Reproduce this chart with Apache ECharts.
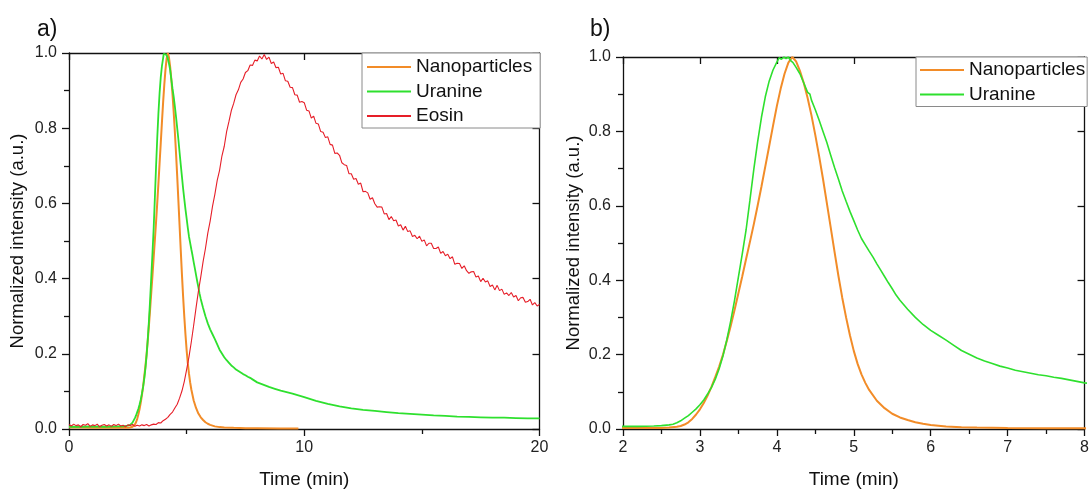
<!DOCTYPE html>
<html>
<head>
<meta charset="utf-8">
<script src="https://cdn.jsdelivr.net/npm/echarts@6/dist/echarts.min.js"></script>
<style>
  html, body { margin: 0; padding: 0; background: #fff; }
  #chart { width: 1092px; height: 494px; }
</style>
</head>
<body>
<div id="chart"></div>
<script>
// Normalized breakthrough curves: [time (min), normalized intensity]
const nanoparticles = [
  [0, 0.004], [0.5, 0.004], [1, 0.003], [1.5, 0.004], [2, 0.003], [2.3, 0.003], [2.5, 0.003],
  [2.6, 0.004], [2.7, 0.006], [2.75, 0.008], [2.8, 0.012], [2.85, 0.018], [2.9, 0.027],
  [2.95, 0.039], [3.0, 0.053], [3.05, 0.07], [3.1, 0.09], [3.15, 0.113], [3.2, 0.14],
  [3.25, 0.168], [3.3, 0.2], [3.35, 0.237], [3.4, 0.277], [3.45, 0.32], [3.5, 0.365],
  [3.55, 0.41], [3.6, 0.457], [3.65, 0.503], [3.7, 0.55], [3.75, 0.6], [3.8, 0.652],
  [3.85, 0.706], [3.9, 0.76], [3.95, 0.815], [4.0, 0.868], [4.05, 0.915], [4.1, 0.955],
  [4.15, 0.985], [4.2, 1.0], [4.25, 0.988], [4.3, 0.963], [4.35, 0.93], [4.4, 0.89],
  [4.45, 0.843], [4.5, 0.79], [4.55, 0.733], [4.6, 0.672], [4.65, 0.607], [4.7, 0.542],
  [4.75, 0.476], [4.8, 0.412], [4.85, 0.353], [4.9, 0.3], [4.95, 0.252], [5.0, 0.21],
  [5.05, 0.175], [5.1, 0.147], [5.15, 0.124], [5.2, 0.105], [5.3, 0.076], [5.4, 0.056],
  [5.5, 0.041], [5.6, 0.031], [5.7, 0.024], [5.8, 0.018], [5.9, 0.014], [6.0, 0.011],
  [6.2, 0.007], [6.4, 0.005], [6.6, 0.004], [7.0, 0.003], [7.5, 0.002], [8, 0.002],
  [9, 0.001], [9.75, 0.001]
];

const uranine = [
  [0, 0.006], [0.5, 0.006], [1, 0.007], [1.5, 0.006], [2, 0.007], [2.2, 0.007], [2.4, 0.008],
  [2.5, 0.009], [2.6, 0.011], [2.65, 0.013], [2.7, 0.017], [2.75, 0.022], [2.8, 0.029],
  [2.85, 0.036], [2.9, 0.045], [2.95, 0.054], [3.0, 0.065], [3.05, 0.078], [3.1, 0.094],
  [3.15, 0.112], [3.2, 0.134], [3.25, 0.162], [3.3, 0.197], [3.35, 0.24], [3.4, 0.29],
  [3.45, 0.346], [3.5, 0.408], [3.55, 0.47], [3.6, 0.535], [3.65, 0.615], [3.7, 0.697],
  [3.75, 0.772], [3.8, 0.838], [3.85, 0.893], [3.9, 0.935], [3.95, 0.965], [4.0, 0.986],
  [4.03, 0.998], [4.06, 0.994], [4.09, 1.0], [4.12, 0.996], [4.15, 1.0], [4.18, 0.99],
  [4.21, 0.985], [4.25, 0.972], [4.3, 0.955], [4.35, 0.93], [4.4, 0.905], [4.43, 0.9],
  [4.45, 0.884], [4.5, 0.858], [4.55, 0.83], [4.6, 0.8], [4.65, 0.77], [4.7, 0.736],
  [4.75, 0.703], [4.8, 0.672], [4.85, 0.64], [4.9, 0.612], [4.95, 0.585], [5.0, 0.56],
  [5.05, 0.535], [5.1, 0.512], [5.15, 0.495], [5.2, 0.478], [5.25, 0.462], [5.3, 0.444],
  [5.35, 0.427], [5.4, 0.41], [5.45, 0.393], [5.5, 0.377], [5.55, 0.36], [5.6, 0.346],
  [5.7, 0.322], [5.8, 0.3], [5.9, 0.281], [6.0, 0.265], [6.1, 0.252], [6.2, 0.239],
  [6.3, 0.225], [6.4, 0.211], [6.5, 0.201], [6.6, 0.191], [6.7, 0.183], [6.8, 0.176],
  [6.9, 0.169], [7.0, 0.164], [7.1, 0.158], [7.2, 0.154], [7.3, 0.15], [7.4, 0.146],
  [7.5, 0.143], [7.6, 0.139], [7.7, 0.136], [7.8, 0.132], [7.9, 0.128], [8.0, 0.124],
  [8.25, 0.118], [8.5, 0.112], [8.75, 0.107], [9, 0.102], [9.5, 0.094], [10, 0.085],
  [10.5, 0.075], [11, 0.067], [11.5, 0.06], [12, 0.055], [12.5, 0.051], [13, 0.048],
  [13.5, 0.045], [14, 0.042], [14.5, 0.04], [15, 0.038], [15.5, 0.036], [16, 0.035],
  [16.5, 0.033], [17, 0.032], [17.5, 0.031], [18, 0.03], [18.5, 0.03], [19, 0.029],
  [19.5, 0.028], [20, 0.028]
];

// Eosin is logged every 0.1 min from t = 0
const eosinStep = 0.1;
const eosinValues = [
  0.012, 0.008, 0.013, 0.009, 0.011, 0.006, 0.012, 0.010, 0.014, 0.007,
  0.011, 0.009, 0.013, 0.006, 0.010, 0.012, 0.008, 0.011, 0.007, 0.012,
  0.009, 0.013, 0.008, 0.010, 0.006, 0.011, 0.009, 0.012, 0.007, 0.010,
  0.008, 0.011, 0.009, 0.012, 0.008, 0.011, 0.013, 0.012, 0.017, 0.016,
  0.022, 0.026, 0.031, 0.039, 0.045, 0.056, 0.066, 0.082, 0.101, 0.126,
  0.158, 0.192, 0.232, 0.276, 0.322, 0.366, 0.404, 0.445, 0.480, 0.521,
  0.553, 0.592, 0.624, 0.661, 0.688, 0.726, 0.752, 0.791, 0.818, 0.847,
  0.866, 0.889, 0.902, 0.922, 0.931, 0.948, 0.953, 0.968, 0.967, 0.981,
  0.979, 0.992, 0.984, 0.996, 0.983, 0.989, 0.972, 0.976, 0.961, 0.962,
  0.944, 0.946, 0.926, 0.925, 0.909, 0.908, 0.889, 0.888, 0.869, 0.871,
  0.868, 0.848, 0.846, 0.827, 0.832, 0.813, 0.811, 0.791, 0.789, 0.775,
  0.777, 0.757, 0.755, 0.733, 0.734, 0.728, 0.708, 0.703, 0.701, 0.679,
  0.679, 0.664, 0.666, 0.651, 0.654, 0.631, 0.632, 0.628, 0.611, 0.615,
  0.599, 0.590, 0.591, 0.590, 0.572, 0.573, 0.557, 0.565, 0.554, 0.556,
  0.540, 0.543, 0.529, 0.539, 0.525, 0.527, 0.512, 0.515, 0.506, 0.513,
  0.499, 0.503, 0.487, 0.494, 0.494, 0.480, 0.480, 0.484, 0.467, 0.472,
  0.461, 0.465, 0.453, 0.458, 0.438, 0.441, 0.440, 0.427, 0.434, 0.421,
  0.414, 0.418, 0.419, 0.404, 0.407, 0.392, 0.401, 0.391, 0.394, 0.379,
  0.383, 0.370, 0.382, 0.368, 0.372, 0.358, 0.362, 0.355, 0.363, 0.351,
  0.355, 0.341, 0.349, 0.350, 0.337, 0.339, 0.345, 0.330, 0.336, 0.327,
  0.331
];
const eosin = eosinValues.map((v, i) => [Number((i * eosinStep).toFixed(1)), v]);

const legendA = ['Nanoparticles', 'Uranine', 'Eosin'];
const legendB = ['Nanoparticles', 'Uranine'];
const panelLabels = ['a)', 'b)'];
const xLabel = 'Time (min)';
const yLabel = 'Normalized intensity (a.u.)';

const COLORS = { Nanoparticles: '#f28c28', Uranine: '#2ee02e', Eosin: '#e61e28' };
const FONT = '"Liberation Sans", Arial, sans-serif';
const INK = '#111';

function bottomAxis(grid, min, max, interval) {
  return {
    gridIndex: grid, type: 'value', position: 'bottom', min, max, interval,
    name: xLabel, nameLocation: 'middle', nameGap: 41,
    nameTextStyle: { fontSize: 19, color: INK, fontFamily: FONT },
    axisLine: { onZero: false, lineStyle: { color: INK, width: 1.3 } },
    axisTick: { inside: false, length: 7, lineStyle: { color: INK, width: 1.3 } },
    minorTick: { show: true, splitNumber: 2, length: 5, lineStyle: { color: INK, width: 1.3 } },
    axisLabel: { fontSize: 16, color: '#222', margin: 11, fontFamily: FONT },
    splitLine: { show: false }, minorSplitLine: { show: false }
  };
}
function topAxis(grid, min, max, interval) {
  return {
    gridIndex: grid, type: 'value', position: 'top', min, max, interval,
    axisLine: { onZero: false, lineStyle: { color: INK, width: 1.3 } },
    axisTick: { inside: true, length: 7, lineStyle: { color: INK, width: 1.3 } },
    axisLabel: { show: false }, splitLine: { show: false }
  };
}
function leftAxis(grid, gap) {
  return {
    gridIndex: grid, type: 'value', position: 'left', min: 0, max: 1, interval: 0.2,
    name: yLabel, nameLocation: 'middle', nameGap: gap, nameRotate: 90,
    nameTextStyle: { fontSize: 18.5, color: INK, fontFamily: FONT },
    axisLine: { onZero: false, lineStyle: { color: INK, width: 1.3 } },
    axisTick: { inside: false, length: 7, lineStyle: { color: INK, width: 1.3 } },
    minorTick: { show: true, splitNumber: 2, length: 5, lineStyle: { color: INK, width: 1.3 } },
    axisLabel: { fontSize: 16, color: '#222', margin: 12, fontFamily: FONT,
                 formatter: v => v.toFixed(1) },
    splitLine: { show: false }, minorSplitLine: { show: false }
  };
}
function rightAxis(grid) {
  return {
    gridIndex: grid, type: 'value', position: 'right', min: 0, max: 1, interval: 0.2,
    axisLine: { onZero: false, lineStyle: { color: INK, width: 1.3 } },
    axisTick: { inside: true, length: 7, lineStyle: { color: INK, width: 1.3 } },
    axisLabel: { show: false }, splitLine: { show: false }
  };
}
function line(name, data, axis, width) {
  return {
    name, type: 'line', data, xAxisIndex: axis, yAxisIndex: axis,
    symbol: 'none', showSymbol: false, smooth: false, clip: true,
    lineStyle: { color: COLORS[name], width },
    itemStyle: { color: COLORS[name] }
  };
}
function legend(items, left, top, padding) {
  return {
    data: items, orient: 'vertical', left, top, padding,
    itemWidth: 44, itemHeight: 14, itemGap: 4.5,
    itemStyle: { opacity: 0 },
    backgroundColor: '#fff', borderColor: '#8a8a8a', borderWidth: 1, borderRadius: 0,
    textStyle: { fontSize: 19, lineHeight: 20, color: INK, fontFamily: FONT },
    selectedMode: false
  };
}

const chart = echarts.init(document.getElementById('chart'), null, { renderer: 'canvas' });
chart.setOption({
  animation: false,
  backgroundColor: '#fff',
  title: [
    { text: panelLabels[0], left: 37, top: 18, padding: 0,
      textStyle: { fontSize: 23, fontWeight: 'normal', color: INK, fontFamily: FONT } },
    { text: panelLabels[1], left: 590, top: 18, padding: 0,
      textStyle: { fontSize: 23, fontWeight: 'normal', color: INK, fontFamily: FONT } }
  ],
  grid: [
    { left: 69, right: 552.5, top: 53, bottom: 60 },
    { left: 623, right: 1, top: 57, bottom: 60.5 }
  ],
  xAxis: [bottomAxis(0, 0, 20, 10), topAxis(0, 0, 20, 10), bottomAxis(1, 2, 8, 1), topAxis(1, 2, 8, 1)],
  yAxis: [leftAxis(0, 42), rightAxis(0), leftAxis(1, 40), rightAxis(1)],
  legend: [
    legend(legendA, 362, 53, [4, 8, 2, 4]),
    legend(legendB, 916, 57, [3, 2, 2, 3])
  ],
  series: [
    line('Nanoparticles', nanoparticles, 0, 2),
    line('Uranine', uranine, 0, 1.8),
    line('Eosin', eosin, 0, 1.1),
    line('Nanoparticles', nanoparticles, 2, 2),
    line('Uranine', uranine, 2, 1.6)
  ]
});
</script>
</body>
</html>
